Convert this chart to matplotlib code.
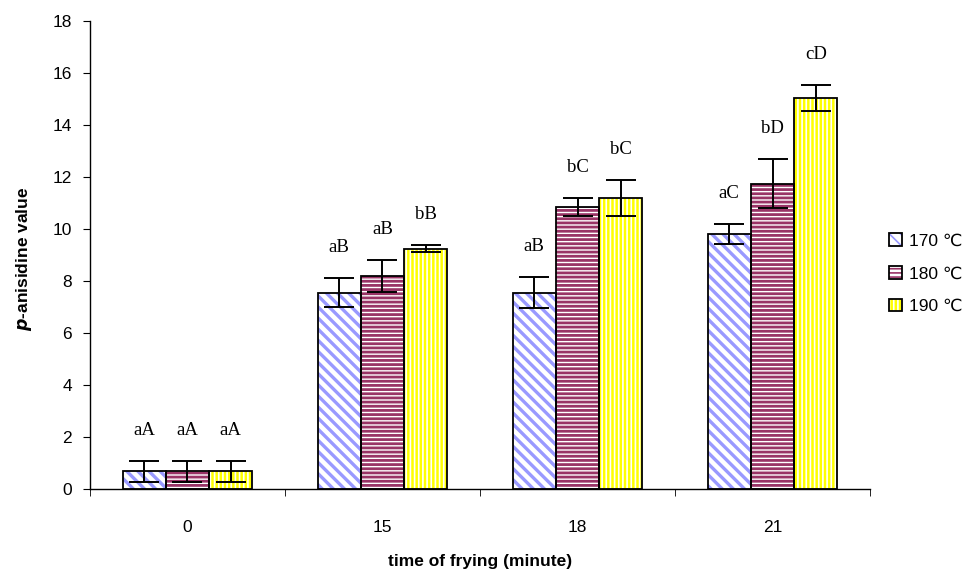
import numpy as np
import matplotlib
matplotlib.use("Agg")
import matplotlib.pyplot as plt
from matplotlib.patches import Patch

# data
times = ["0", "15", "18", "21"]
temps = ["170 \u2103", "180 \u2103", "190 \u2103"]
val_170 = [0.68, 7.55, 7.55, 9.80]
val_180 = [0.68, 8.18, 10.85, 11.75]
val_190 = [0.68, 9.25, 11.20, 15.05]
err_170 = [0.40, 0.55, 0.60, 0.38]
err_180 = [0.40, 0.62, 0.35, 0.95]
err_190 = [0.40, 0.15, 0.70, 0.50]
lab_170 = ["aA", "aB", "aB", "aC"]
lab_180 = ["aA", "aB", "bC", "bD"]
lab_190 = ["aA", "bB", "bC", "cD"]

values = [val_170, val_180, val_190]
errors = [err_170, err_180, err_190]
labels = [lab_170, lab_180, lab_190]

# style: (face, hatch colour, hatch, hatch linewidth)
styles = [
    ("white", "#9999FF", "\\\\\\", 2.4),
    ("white", "#993366", "----", 2.0),
    ("#FFFF00", "white", "||||", 1.2),
]

plt.rcParams["font.family"] = ["Liberation Sans", "DejaVu Sans"]

fig = plt.figure(figsize=(9.8, 5.76), dpi=100)
ax = fig.add_axes([0.0918, 0.151, 0.796, 0.8125])

x = np.arange(len(times))
w = 0.222
offs = [-w, 0, w]

handles = []
for i in range(3):
    face, hcol, hatch, hlw = styles[i]
    plt.rcParams["hatch.linewidth"] = hlw
    ax.bar(x + offs[i], values[i], w, color=face, edgecolor=hcol,
           hatch=hatch, linewidth=0, zorder=2)
    ax.bar(x + offs[i], values[i], w, fill=False, edgecolor="black",
           linewidth=1.3, zorder=3)
    ax.errorbar(x + offs[i], values[i], yerr=errors[i], fmt="none",
                ecolor="black", elinewidth=1.4, capsize=11, capthick=1.4,
                zorder=4)
    for j in range(len(times)):
        top = values[i][j] + errors[i][j]
        ax.text(x[j] + offs[i], top + 0.85, labels[i][j], ha="center",
                va="bottom", fontsize=13.5, family="Liberation Serif")
    hp = Patch(facecolor=face, edgecolor=hcol, hatch=hatch, linewidth=0)
    op = Patch(fill=False, edgecolor="black", linewidth=1.3)
    handles.append((hp, op))

ax.set_xlim(-0.5, 3.5)
ax.set_ylim(0, 18)
ax.set_yticks(np.arange(0, 19, 2))
ax.set_xticks(x)
ax.set_xticklabels(times)
ax.set_xticks(np.arange(-0.5, 3.6, 1), minor=True)
ax.tick_params(axis="x", which="major", length=0, pad=22, labelsize=12.5)
ax.tick_params(axis="x", which="minor", length=5, direction="out")
ax.tick_params(axis="y", length=5, labelsize=12.5, pad=8)
ax.spines["top"].set_visible(False)
ax.spines["right"].set_visible(False)
for s in ["left", "bottom"]:
    ax.spines[s].set_linewidth(1.0)

ax.set_xlabel("time of frying (minute)", fontsize=12.5, fontweight="bold",
              labelpad=14)
fig.text(0.024, 0.55, "$\\mathbfit{p}$-anisidine value", rotation=90,
         ha="center", va="center", fontsize=12.5, fontweight="bold")

leg = fig.legend(handles, temps, loc="center left",
                 bbox_to_anchor=(0.895, 0.525), frameon=False, fontsize=12.5,
                 handlelength=0.75, handleheight=0.75, handletextpad=0.4,
                 labelspacing=1.0, borderpad=0.2)

fig.savefig("out.png", dpi=100)
